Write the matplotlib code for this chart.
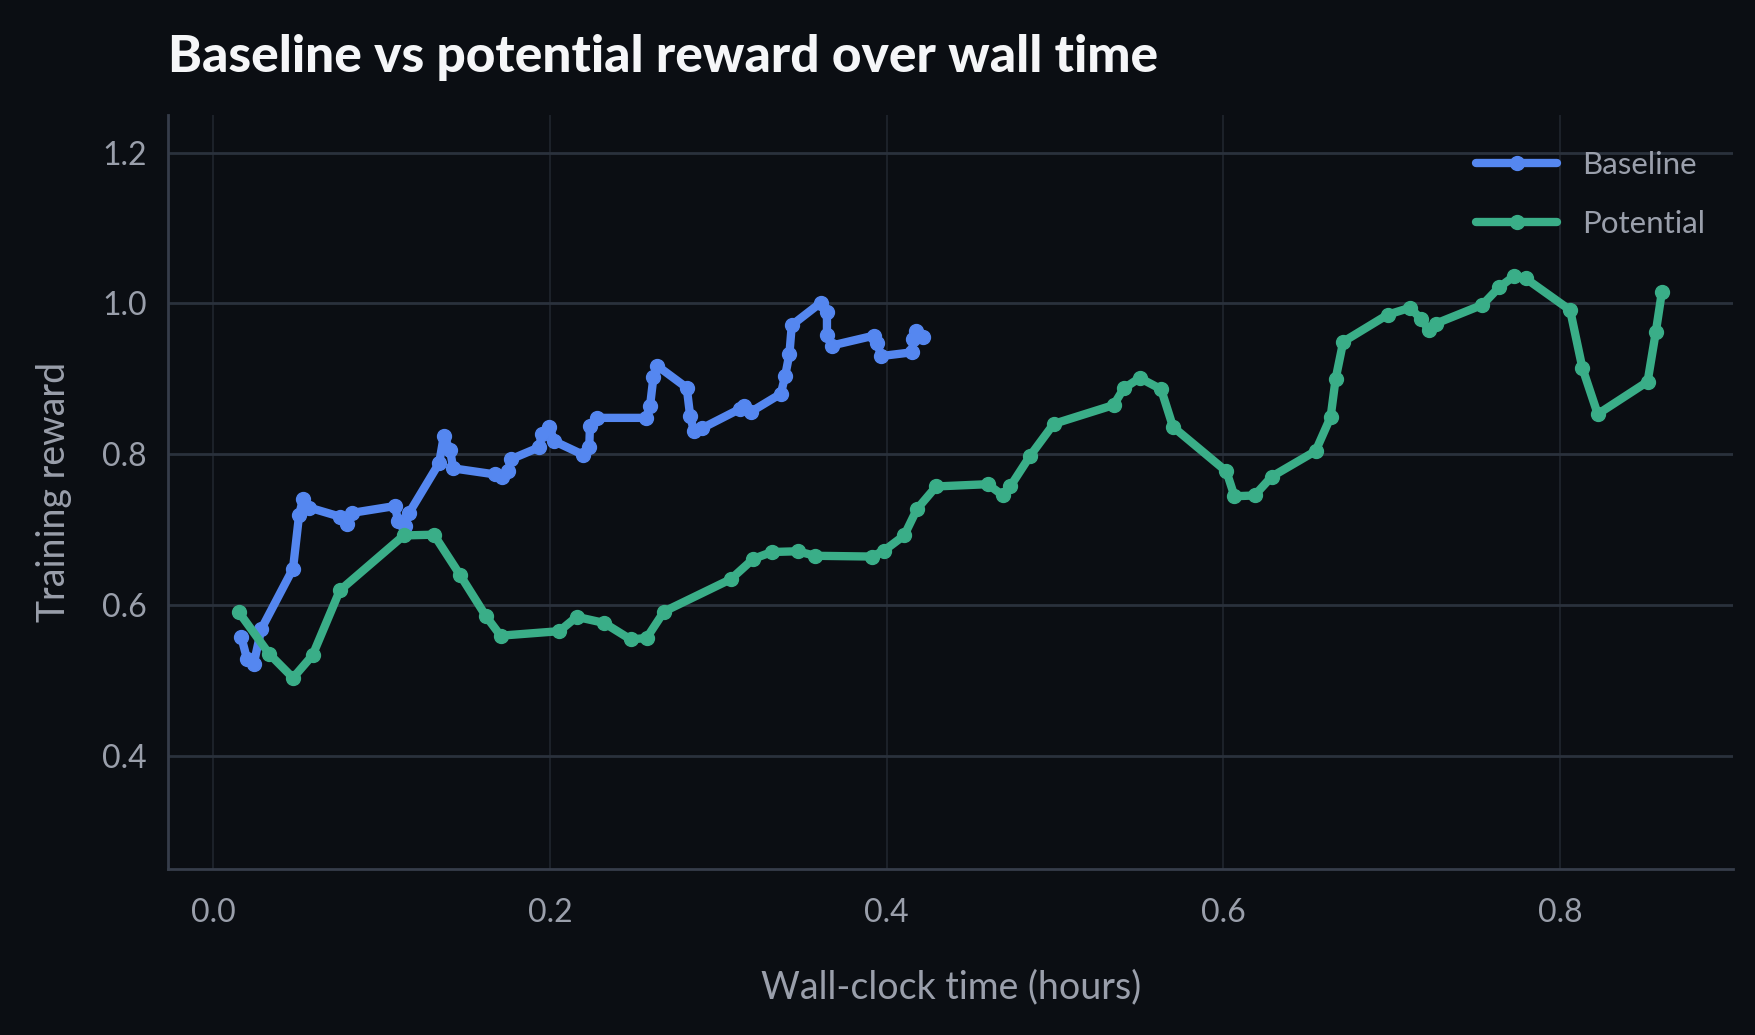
import matplotlib
matplotlib.use("Agg")
from matplotlib import pyplot as plt

# wall-clock hours / training reward
baseline_hours = [0.0166, 0.020, 0.024, 0.0285, 0.0473, 0.0509, 0.0533, 0.0569, 0.0751, 0.0795,
                  0.0826, 0.1078, 0.1098, 0.1137, 0.1163, 0.1341, 0.1369, 0.1405, 0.1425, 0.1672,
                  0.1712, 0.1752, 0.1766, 0.1936, 0.195, 0.1996, 0.2025, 0.2197, 0.2233, 0.2237,
                  0.2281, 0.257, 0.2594, 0.2614, 0.2637, 0.2812, 0.2832, 0.2855, 0.2901, 0.3129,
                  0.3153, 0.3193, 0.3371, 0.3397, 0.3422, 0.3436, 0.3609, 0.3645, 0.3645, 0.3674,
                  0.3922, 0.3945, 0.3966, 0.415, 0.4159, 0.4175, 0.4215]
baseline_reward = [0.557, 0.528, 0.522, 0.568, 0.648, 0.719, 0.741, 0.729, 0.717, 0.707,
                   0.722, 0.731, 0.711, 0.704, 0.722, 0.788, 0.824, 0.806, 0.781, 0.773,
                   0.769, 0.778, 0.793, 0.809, 0.827, 0.836, 0.817, 0.799, 0.810, 0.837,
                   0.848, 0.848, 0.864, 0.902, 0.917, 0.888, 0.851, 0.830, 0.834, 0.860,
                   0.864, 0.856, 0.880, 0.904, 0.933, 0.971, 1.001, 0.989, 0.958, 0.944,
                   0.957, 0.947, 0.930, 0.935, 0.953, 0.963, 0.955]

potential_hours = [0.0152, 0.0331, 0.0473, 0.0589, 0.0751, 0.1131, 0.131, 0.1464, 0.1619, 0.1706,
                   0.2055, 0.2158, 0.232, 0.2479, 0.2574, 0.2677, 0.3074, 0.3208, 0.3317, 0.347,
                   0.3575, 0.3912, 0.3985, 0.4104, 0.418, 0.4294, 0.46, 0.4691, 0.4734, 0.4853,
                   0.4992, 0.5348, 0.5408, 0.5503, 0.563, 0.5701, 0.6018, 0.6066, 0.6185, 0.6287,
                   0.6548, 0.6637, 0.6667, 0.6712, 0.6977, 0.7108, 0.7176, 0.7221, 0.7261, 0.7539,
                   0.7637, 0.7727, 0.7796, 0.806, 0.8133, 0.8224, 0.852, 0.8569, 0.8605]
potential_reward = [0.590, 0.535, 0.503, 0.533, 0.619, 0.692, 0.693, 0.640, 0.585, 0.559,
                    0.565, 0.584, 0.576, 0.554, 0.556, 0.591, 0.634, 0.661, 0.670, 0.671,
                    0.665, 0.664, 0.672, 0.692, 0.727, 0.757, 0.760, 0.745, 0.757, 0.798,
                    0.840, 0.865, 0.887, 0.901, 0.886, 0.836, 0.777, 0.744, 0.745, 0.770,
                    0.804, 0.849, 0.900, 0.949, 0.985, 0.994, 0.979, 0.964, 0.973, 0.998,
                    1.021, 1.036, 1.033, 0.991, 0.914, 0.853, 0.896, 0.962, 1.015]

x_ticks = [0.0, 0.2, 0.4, 0.6, 0.8]
y_ticks = [0.4, 0.6, 0.8, 1.0, 1.2]

bg = "#0b0e13"
text_col = "#9a9fab"
plt.rcParams["font.family"] = ["Lato", "DejaVu Sans"]

fig = plt.figure(figsize=(17.55, 10.35), dpi=100, facecolor=bg)
ax = fig.add_axes([0.0957, 0.1608, 0.892, 0.7282], facecolor=bg)

ax.plot(baseline_hours, baseline_reward, color="#5587f0", lw=6, marker="o", ms=10,
        solid_capstyle="round", solid_joinstyle="round", label="Baseline", zorder=3)
ax.plot(potential_hours, potential_reward, color="#3aae88", lw=6, marker="o", ms=10,
        solid_capstyle="round", solid_joinstyle="round", label="Potential", zorder=3)

ax.set_xlim(-0.027, 0.903)
ax.set_ylim(0.25, 1.25)
ax.set_xticks(x_ticks)
ax.set_yticks(y_ticks)
ax.set_xticklabels([f"{t:.1f}" for t in x_ticks])
ax.set_yticklabels([f"{t:.1f}" for t in y_ticks])
ax.tick_params(axis="both", length=0, labelsize=23, labelcolor=text_col)
ax.tick_params(axis="x", pad=21)
ax.tick_params(axis="y", pad=15)

ax.grid(axis="x", color="#1c2129", lw=1.5)
ax.grid(axis="y", color="#2a313c", lw=2)
ax.set_axisbelow(True)
for side in ["top", "right"]:
    ax.spines[side].set_visible(False)
for side in ["left", "bottom"]:
    ax.spines[side].set_color("#363d4a")
    ax.spines[side].set_linewidth(2)

ax.set_xlabel("Wall-clock time (hours)", fontsize=27, color=text_col, labelpad=30)
ax.set_ylabel("Training reward", fontsize=27, color=text_col, labelpad=22)

leg = ax.legend(loc="upper right", bbox_to_anchor=(1.0, 0.99), frameon=False, fontsize=22.5,
                handlelength=2.6, handletextpad=0.8, labelspacing=1.0)
for t in leg.get_texts():
    t.set_color(text_col)

fig.text(0.0957, 0.944, "Baseline vs potential reward over wall time", fontsize=37,
         fontweight="black", color="#f5f6f8", ha="left", va="center")

plt.savefig("out.png", dpi=100, facecolor=bg)
